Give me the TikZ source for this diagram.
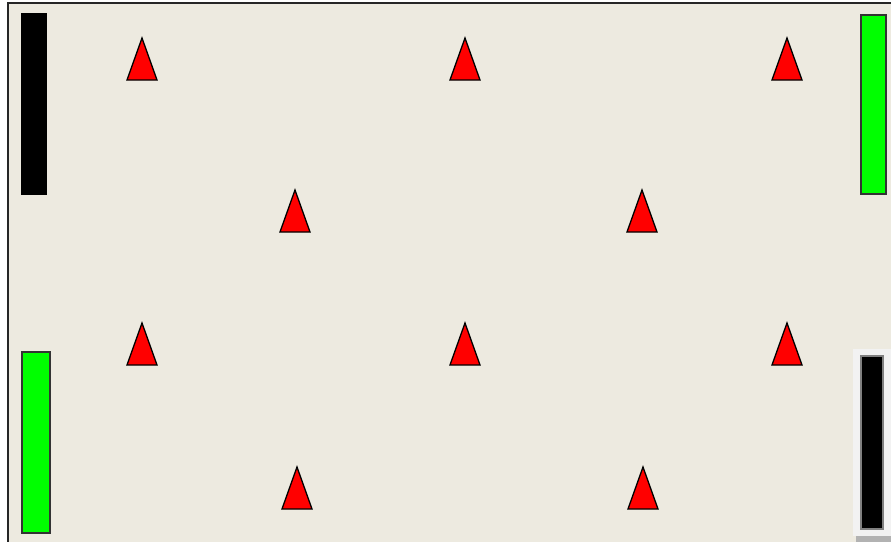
\documentclass[tikz,border=0pt]{standalone}
\usepackage{tikz}
\usetikzlibrary{calc}
\definecolor{fieldbg}{RGB}{237,234,224}
\definecolor{panelbg}{RGB}{242,242,242}
\definecolor{fieldgreen}{RGB}{0,255,0}
\tikzset{
	fieldline/.style={line width=1pt, draw=black!85}
}
\tikzset{
	conestyle/.style={line width=0.65pt, fill=red, draw=black, line join=miter}
}
\tikzset{
	barstyle/.style={line width=0.65pt, draw=black!80}
}
\newcommand{\cone}[2]{\draw[conestyle] (#1-15,#2+42) -- (#1,#2) -- (#1+15,#2+42) -- cycle;}

\begin{document}
\begin{tikzpicture}[x=0.5pt, y=-0.5pt]
      \useasboundingbox (0,0) rectangle (891,542);
      \fill[white] (0,0) rectangle (891,542);
      \fill[fieldbg] (8,3) rectangle (895,546);
      \draw[fieldline] (8,546) -- (8,3) -- (895,3);
      % goals
      \fill[black] (21,13) rectangle (47,195);
      \draw[barstyle, fill=fieldgreen] (22,352) rectangle (50,533);
      \draw[barstyle, fill=fieldgreen] (861,15) rectangle (886,194);
      \fill[panelbg] (853,349) rectangle (891,536);
      \fill[black!30] (856,536) rectangle (891,542);
      \draw[barstyle, draw=gray, fill=black] (861,356) rectangle (883,529);
      % cones
      \foreach \x/\y in {142/38, 465/38, 787/38, 295/190, 642/190,
                         142/323, 465/323, 787/323, 297/467, 643/467}
        {\cone{\x}{\y}}
    \end{tikzpicture}
\end{document}
